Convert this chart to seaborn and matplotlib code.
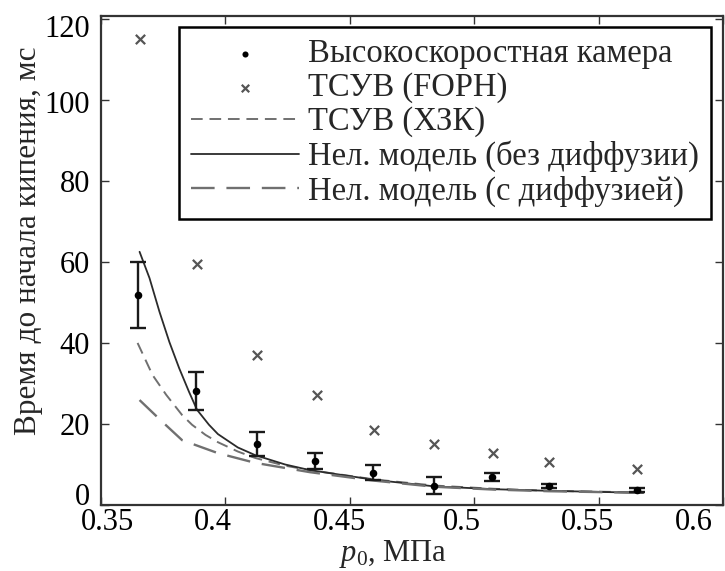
import numpy as np
import pandas as pd
import matplotlib
matplotlib.use("Agg")
import matplotlib.pyplot as plt
import matplotlib.transforms as mtransforms
import seaborn as sns

# ---- data ----
cam_x = [0.365, 0.388, 0.4125, 0.436, 0.4595, 0.484, 0.507, 0.530, 0.5655]
cam_y = [51.9, 28.1, 15.1, 10.9, 7.9, 4.7, 6.9, 4.7, 3.7]
cam_err = [8.2, 4.7, 2.9, 2.0, 1.85, 2.1, 1.0, 0.6, 0.6]

foph_x = [0.3655, 0.3886, 0.4128, 0.437, 0.4598, 0.484, 0.5075, 0.530, 0.5656]
foph_y = [115.0, 59.5, 37.0, 27.2, 18.5, 15.1, 12.8, 10.6, 8.9]

hzk_x = [0.3647, 0.3707, 0.3762, 0.3826, 0.3866, 0.392, 0.397, 0.405, 0.412,
         0.424, 0.434, 0.46, 0.484, 0.508, 0.53, 0.568]
hzk_y = [40.0, 32.1, 27.2, 22.2, 19.8, 17.3, 15.5, 13.2, 11.6,
         9.7, 8.6, 6.3, 4.8, 4.0, 3.5, 3.1]

nodiff_x = [0.3655, 0.3695, 0.3735, 0.3775, 0.3814, 0.3854, 0.3886, 0.3934,
            0.397, 0.405, 0.412, 0.424, 0.434, 0.46, 0.484, 0.508, 0.53, 0.568]
nodiff_y = [62.5, 56.0, 47.7, 40.2, 33.8, 27.9, 23.5, 19.8,
            17.5, 14.2, 12.3, 10.0, 8.6, 6.2, 4.6, 3.9, 3.5, 3.0]

diff_x = [0.3655, 0.3747, 0.3826, 0.388, 0.397, 0.412, 0.434, 0.46, 0.484, 0.508, 0.53, 0.568]
diff_y = [25.9, 20.5, 16.0, 14.8, 12.8, 10.4, 8.1, 6.0, 4.5, 3.8, 3.4, 3.0]

labels = ["Высокоскоростная камера", "ТСУВ (FOPH)", "ТСУВ (ХЗК)",
          "Нел. модель (без диффузии)", "Нел. модель (с диффузией)"]
x_ticks = [0.35, 0.4, 0.45, 0.5, 0.55, 0.6]
x_ticklabels = ["0.35", "0.4", "0.45", "0.5", "0.55", "0.6"]
y_ticks = [0, 20, 40, 60, 80, 100, 120]

# ---- style ----
sns.set_theme(style="ticks")
plt.rcParams["font.family"] = ["Liberation Serif", "DejaVu Serif"]
plt.rcParams["mathtext.fontset"] = "custom"
plt.rcParams["mathtext.rm"] = "Liberation Serif"
plt.rcParams["mathtext.it"] = "Liberation Serif:italic"

fig = plt.figure(figsize=(7.25, 5.71), dpi=100)
ax = fig.add_axes([101 / 725, 1 - 505 / 571, 622 / 725, 489 / 571])

df_cam = pd.DataFrame({"x": cam_x, "y": cam_y})
df_foph = pd.DataFrame({"x": foph_x, "y": foph_y})
df_hzk = pd.DataFrame({"x": hzk_x, "y": hzk_y})
df_nd = pd.DataFrame({"x": nodiff_x, "y": nodiff_y})
df_d = pd.DataFrame({"x": diff_x, "y": diff_y})

ax.errorbar(cam_x, cam_y, yerr=cam_err, fmt="none", ecolor="#1a1a1a",
            elinewidth=1.7, capsize=5.5, capthick=1.7, zorder=4)
sns.scatterplot(data=df_cam, x="x", y="y", ax=ax, marker="o", s=30,
                color="black", edgecolor="black", linewidth=0, zorder=5,
                label=labels[0])
sns.scatterplot(data=df_foph, x="x", y="y", ax=ax, marker="x", s=45,
                color="#555555", linewidth=1.6, zorder=5, label=labels[1])
sns.lineplot(data=df_hzk, x="x", y="y", ax=ax, color="#707070", linewidth=1.4,
             label=labels[2], sort=False)
ax.lines[-1].set_dashes([6, 3.5])
sns.lineplot(data=df_nd, x="x", y="y", ax=ax, color="#2b2b2b", linewidth=1.3,
             label=labels[3], sort=False)
sns.lineplot(data=df_d, x="x", y="y", ax=ax, color="#707070", linewidth=1.7,
             label=labels[4], sort=False)
ax.lines[-1].set_dashes([10, 5])

ax.set_xlim(0.35, 0.6)
ax.set_ylim(0, 120.7)
ax.set_xticks(x_ticks)
ax.set_xticklabels(x_ticklabels)
ax.set_yticks(y_ticks)
ax.tick_params(direction="in", length=6, width=1.0, top=True, right=True,
               labelsize=22, colors="#333333", labelcolor="black")
ax.tick_params(axis="x", pad=2)
ax.tick_params(axis="y", pad=8)
for sp in ax.spines.values():
    sp.set_visible(True)
    sp.set_linewidth(1.6)
    sp.set_color("#333333")

# label placement shifts as in the reference (pixels at 100 dpi)
x_shift = [7, -13, -10, -12, -11, -29]
for lab, dx in zip(ax.get_xticklabels(), x_shift):
    lab.set_transform(lab.get_transform() +
                      mtransforms.ScaledTranslation(dx / 100, 0, fig.dpi_scale_trans))
y_shift = [11, 0, 0, 0, 0, -2, -7]
for lab, dy in zip(ax.get_yticklabels(), y_shift):
    lab.set_transform(lab.get_transform() +
                      mtransforms.ScaledTranslation(0, dy / 100, fig.dpi_scale_trans))

ax.set_xlabel(r"$\mathit{p}_0$, МПа", fontsize=22)
ax.xaxis.set_label_coords(0.47, -0.068)
ax.set_ylabel("Время до начала кипения, мс", fontsize=22.5)
ax.yaxis.set_label_coords(-0.093, 0.54)

h, l = ax.get_legend_handles_labels()
hd = dict(zip(l, h))
leg = ax.legend([hd[t] for t in labels], labels, loc="upper right",
                bbox_to_anchor=(711 / 725, 1 - 27 / 571),
                bbox_transform=fig.transFigure, fontsize=23.5, frameon=True,
                fancybox=False, edgecolor="black", framealpha=1,
                handlelength=3.3, handletextpad=0.3, labelspacing=0.1,
                borderpad=0.36, borderaxespad=0, markerscale=0.8)
leg.get_frame().set_linewidth(1.8)

fig.savefig("out.png", dpi=100)
